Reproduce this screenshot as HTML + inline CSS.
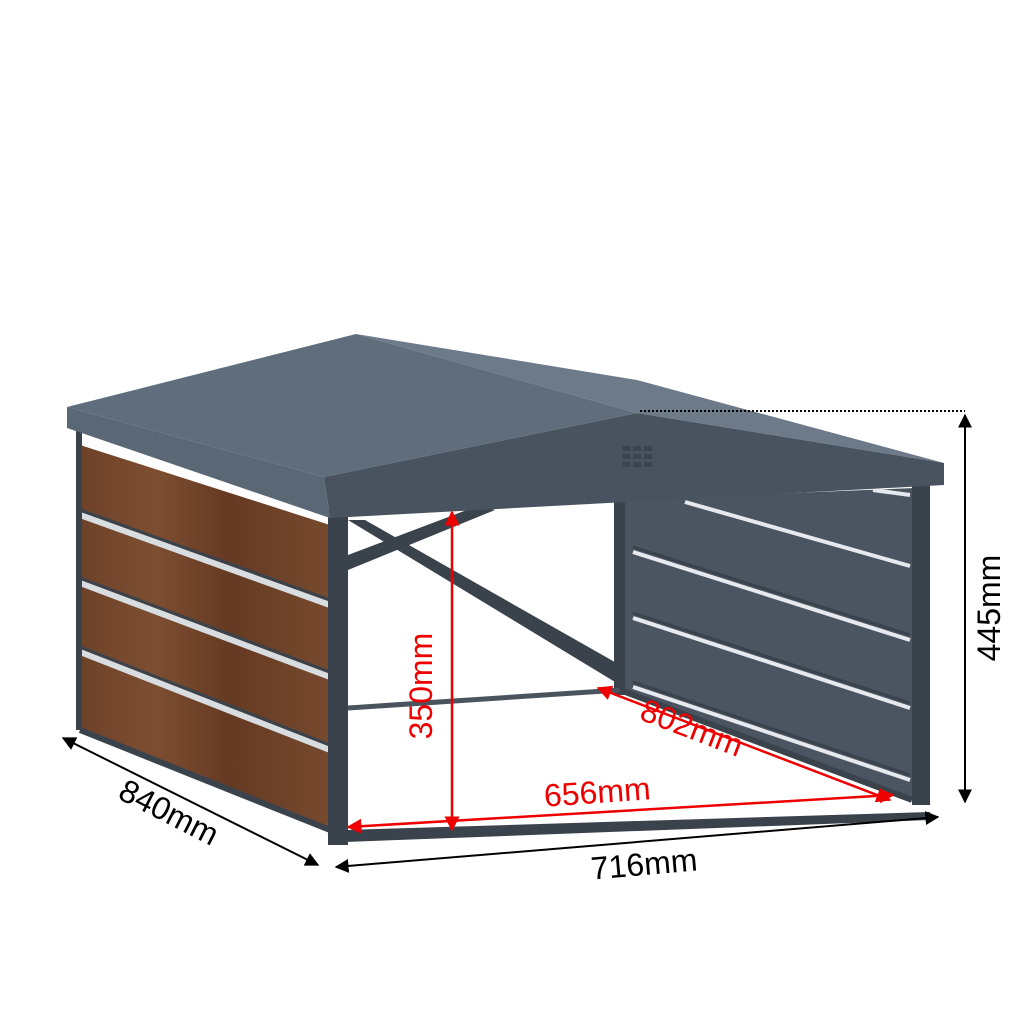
<!DOCTYPE html>
<html><head><meta charset="utf-8"><style>html,body{margin:0;padding:0;background:#fff}svg{display:block}</style></head>
<body>
<svg width="1024" height="1024" viewBox="0 0 1024 1024" xmlns="http://www.w3.org/2000/svg" font-family="Liberation Sans, sans-serif">
<defs>
<linearGradient id="wood" x1="0" y1="0" x2="1" y2="0">
<stop offset="0" stop-color="#6e4229"/><stop offset="0.3" stop-color="#7d4e31"/><stop offset="0.6" stop-color="#653a22"/><stop offset="1" stop-color="#774a2e"/>
</linearGradient>
<marker id="ab" viewBox="0 0 10 10" refX="9" refY="5" markerWidth="7" markerHeight="7" orient="auto-start-reverse"><path d="M0,0L10,5L0,10z" fill="#000"/></marker>
<marker id="ar" viewBox="0 0 10 10" refX="9" refY="5" markerWidth="6" markerHeight="6" orient="auto-start-reverse"><path d="M0,0L10,5L0,10z" fill="#e00"/></marker>
</defs>
<!-- right side panel -->
<polygon points="620,500 915,488 915,800 620,690" fill="#4a5561"/>
<g stroke="#e6eaee" stroke-width="4">
<line x1="685" y1="502" x2="910" y2="566"/>
<line x1="633" y1="552" x2="910" y2="640"/>
<line x1="633" y1="618" x2="910" y2="708"/>
<line x1="633" y1="687" x2="910" y2="780"/>
<line x1="873" y1="490" x2="910" y2="495"/>
</g>
<g stroke="#3a434c" stroke-width="3">
<line x1="633" y1="547" x2="910" y2="635"/>
<line x1="633" y1="613" x2="910" y2="703"/>
<line x1="633" y1="682" x2="910" y2="775"/>
</g>
<rect x="614" y="500" width="11" height="195" fill="#3a434c"/>
<rect x="912" y="485" width="18" height="320" fill="#3a434c"/>
<!-- back brace -->
<polygon points="348,520 365,520 620,665 620,685" fill="#3a434c"/>
<polygon points="348,555 480,505 495,510 348,570" fill="#3a434c"/>
<line x1="348" y1="708" x2="620" y2="690" stroke="#4a545e" stroke-width="5"/>
<line x1="620" y1="690" x2="912" y2="800" stroke="#3a434c" stroke-width="6"/>
<!-- left wood panel -->
<polygon points="80,445 330,525 330,828 80,732" fill="url(#wood)"/>
<g stroke="#d8dde2" stroke-width="6">
<line x1="80" y1="515" x2="330" y2="605"/>
<line x1="80" y1="583" x2="330" y2="677"/>
<line x1="80" y1="652" x2="330" y2="750"/>
</g>
<g stroke="#3a434c" stroke-width="3">
<line x1="80" y1="510" x2="330" y2="600"/>
<line x1="80" y1="578" x2="330" y2="672"/>
<line x1="80" y1="647" x2="330" y2="745"/>
</g>
<rect x="76" y="428" width="6" height="302" fill="#3a434c"/>
<line x1="80" y1="730" x2="330" y2="830" stroke="#3a434c" stroke-width="6"/>
<rect x="328" y="510" width="20" height="335" fill="#3a434c"/>
<polygon points="345,830 930,812 930,820 345,842" fill="#3a434c"/>
<!-- roof -->
<polygon points="67,407 356,334 637,413 324,477" fill="#5f6d7c"/>
<polygon points="356,334 637,380 944,463 637,413" fill="#6c7a89"/>
<polygon points="324,477 637,413 944,463 944,485 330,518" fill="#48535f"/>
<polygon points="67,407 324,477 330,518 67,428" fill="#5a6775"/>
<g fill="#3a444e"><rect x="622" y="446" width="8" height="5"/><rect x="633" y="446" width="8" height="5"/><rect x="644" y="446" width="8" height="5"/><rect x="622" y="454" width="8" height="5"/><rect x="633" y="454" width="8" height="5"/><rect x="644" y="454" width="8" height="5"/><rect x="622" y="462" width="8" height="5"/><rect x="633" y="462" width="8" height="5"/><rect x="644" y="462" width="8" height="5"/></g>
<!-- black dimensions -->
<line x1="640" y1="411" x2="965" y2="411" stroke="#000" stroke-width="2" stroke-dasharray="2,2"/>
<line x1="965" y1="415" x2="965" y2="802" stroke="#000" stroke-width="2" marker-start="url(#ab)" marker-end="url(#ab)"/>
<text x="1000" y="608" font-size="32" transform="rotate(-90 1000 608)" text-anchor="middle">445mm</text>
<line x1="63" y1="738" x2="318" y2="865" stroke="#000" stroke-width="2" marker-start="url(#ab)" marker-end="url(#ab)"/>
<text x="164" y="822" font-size="32" transform="rotate(27 164 822)" text-anchor="middle">840mm</text>
<line x1="336" y1="867" x2="938" y2="817" stroke="#000" stroke-width="2" marker-start="url(#ab)" marker-end="url(#ab)"/>
<text x="645" y="875" font-size="32" transform="rotate(-5 645 875)" text-anchor="middle">716mm</text>
<!-- red dimensions -->
<line x1="452" y1="512" x2="452" y2="830" stroke="#e00" stroke-width="2.5" marker-start="url(#ar)" marker-end="url(#ar)"/>
<text x="432" y="686" font-size="32" fill="#e00" transform="rotate(-90 432 686)" text-anchor="middle">350mm</text>
<line x1="348" y1="827" x2="893" y2="795" stroke="#e00" stroke-width="2.5" marker-start="url(#ar)" marker-end="url(#ar)"/>
<text x="598" y="803" font-size="32" fill="#e00" transform="rotate(-4 598 803)" text-anchor="middle">656mm</text>
<line x1="598" y1="688" x2="890" y2="800" stroke="#e00" stroke-width="2.5" marker-start="url(#ar)" marker-end="url(#ar)"/>
<text x="688" y="738" font-size="32" fill="#e00" transform="rotate(21 688 738)" text-anchor="middle">802mm</text>
</svg>
</body></html>
